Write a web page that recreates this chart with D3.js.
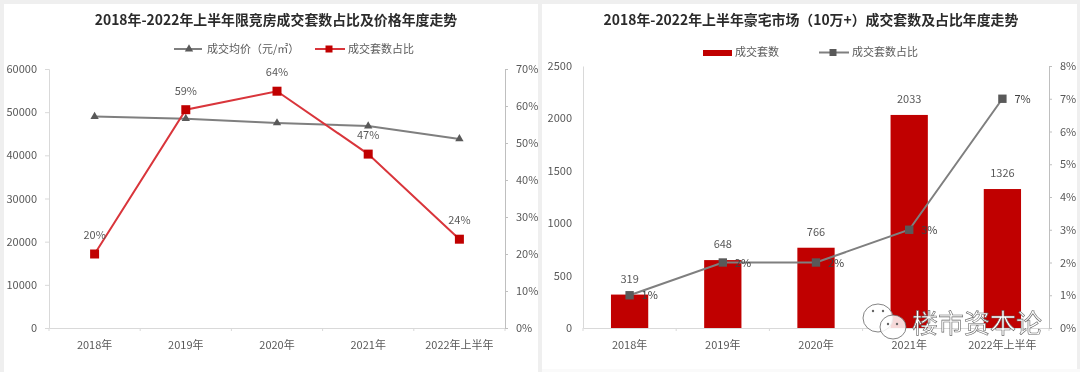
<!DOCTYPE html>
<html>
<head>
<meta charset="utf-8">
<script src="https://cdn.jsdelivr.net/npm/d3@7"></script>
<style>
html, body { margin: 0; padding: 0; background: #fff; }
svg { display: block; }
text { font-family: "Noto Sans CJK SC", "Noto Sans", sans-serif; }
.tick text, .lbl, .legend { fill: #595959; font-size: 11px; }
.title { fill: #2b2b2b; font-size: 13.9px; font-weight: 700; text-anchor: middle; }
.blur { filter: blur(0.6px); }
</style>
</head>
<body>
<svg width="1080" height="372"></svg>
<script>
const categories = ['2018年', '2019年', '2020年', '2021年', '2022年上半年']
const avgPrice = [49000, 48500, 47500, 46800, 43800]
const limitShare = [20, 59, 64, 47, 24]
const luxuryCount = [319, 648, 766, 2033, 1326]
const luxuryShare = [1, 2, 2, 3, 7]
const leftTicks = [0, 10000, 20000, 30000, 40000, 50000, 60000]
const leftPctTicks = [0, 10, 20, 30, 40, 50, 60, 70]
const rightTicks = [0, 500, 1000, 1500, 2000, 2500]
const rightPctTicks = [0, 1, 2, 3, 4, 5, 6, 7, 8]

const red = '#c00000'
const lineRed = '#d9353b'
const grey = '#7f7f7f'
const darkGrey = '#595959'
const axisGrey = '#d9d9d9'
const axisDark = '#bfbfbf'

const svg = d3.select('svg')

svg.append('rect').attr('width', 1080).attr('height', 372).attr('fill', '#efefef')
svg.append('rect').attr('x', 4).attr('y', 4).attr('width', 534).attr('height', 368).attr('fill', '#fff')
svg.append('rect').attr('x', 542).attr('y', 4).attr('width', 535).attr('height', 365).attr('fill', '#fff')
svg.append('rect').attr('x', 542).attr('y', 369).attr('width', 538).attr('height', 3).attr('fill', '#fafafa')

const root = svg.append('g').attr('class', 'blur')

const styleAxis = (g, color) => {
    g.selectAll('.domain').attr('stroke', color)
    g.selectAll('.tick line').attr('stroke', color)
}

const triangle = d3.symbol().type(d3.symbolTriangle).size(30)
const square = size => d3.symbol().type(d3.symbolSquare).size(size)

const bandTicks = (g, x, bottom) => {
    const left = x.range()[0]
    g.selectAll('.cat-tick').data(d3.range(categories.length + 1)).enter().append('line')
        .attr('x1', i => left + i * x.step()).attr('x2', i => left + i * x.step())
        .attr('y1', bottom).attr('y2', bottom + 3).attr('stroke', axisGrey)
}

// left chart
const drawLeft = () => {
    const m = { left: 49, right: 505, top: 69, bottom: 328 }
    const x = d3.scaleBand().domain(categories).range([m.left, m.right])
    const y = d3.scaleLinear().domain([0, 60000]).range([m.bottom, m.top])
    const yPct = d3.scaleLinear().domain([0, 70]).range([m.bottom, m.top])
    const cx = d => x(d) + x.bandwidth() / 2
    const g = root.append('g')

    g.append('text').attr('class', 'title').attr('x', 276).attr('y', 25)
        .text('2018年-2022年上半年限竞房成交套数占比及价格年度走势')

    g.append('g').attr('transform', `translate(0,${m.bottom})`)
        .call(d3.axisBottom(x).tickSize(0).tickPadding(13))
        .call(styleAxis, axisGrey)
    bandTicks(g, x, m.bottom)

    g.append('g').attr('transform', `translate(${m.left},0)`)
        .call(d3.axisLeft(y).tickValues(leftTicks).tickFormat(d3.format('d')).tickSize(4).tickPadding(8))
        .call(styleAxis, axisGrey)
    g.append('g').attr('transform', `translate(${m.right},0)`)
        .call(d3.axisRight(yPct).tickValues(leftPctTicks).tickFormat(d => d + '%').tickSize(3).tickPadding(8))
        .call(styleAxis, axisDark)

    const priceLine = d3.line().x((d, i) => cx(categories[i])).y(d => y(d))
    const shareLine = d3.line().x((d, i) => cx(categories[i])).y(d => yPct(d))

    g.append('path').attr('d', priceLine(avgPrice)).attr('fill', 'none').attr('stroke', grey).attr('stroke-width', 2)
    g.selectAll('.tri').data(avgPrice).enter().append('path')
        .attr('d', triangle).attr('fill', darkGrey)
        .attr('transform', (d, i) => `translate(${cx(categories[i])},${y(d)})`)

    g.append('path').attr('d', shareLine(limitShare)).attr('fill', 'none').attr('stroke', lineRed).attr('stroke-width', 2)
    g.selectAll('.sq').data(limitShare).enter().append('path')
        .attr('d', square(81)).attr('fill', red)
        .attr('transform', (d, i) => `translate(${cx(categories[i])},${yPct(d)})`)

    g.selectAll('.lbl').data(limitShare).enter().append('text')
        .attr('class', 'lbl').attr('text-anchor', 'middle')
        .attr('x', (d, i) => cx(categories[i]))
        .attr('y', d => yPct(d) - 15)
        .text(d => d + '%')

    // legend
    const lg = g.append('g')
    lg.append('line').attr('x1', 174).attr('x2', 202).attr('y1', 49).attr('y2', 49).attr('stroke', grey).attr('stroke-width', 2)
    lg.append('path').attr('d', triangle).attr('fill', darkGrey).attr('transform', 'translate(189,49)')
    lg.append('text').attr('class', 'legend').attr('x', 207).attr('y', 53).text('成交均价（元/㎡）')
    lg.append('line').attr('x1', 315).attr('x2', 345).attr('y1', 49).attr('y2', 49).attr('stroke', lineRed).attr('stroke-width', 2)
    lg.append('path').attr('d', square(49)).attr('fill', red).attr('transform', 'translate(329,49)')
    lg.append('text').attr('class', 'legend').attr('x', 348).attr('y', 53).text('成交套数占比')
}

// right chart
const drawRight = () => {
    const m = { left: 583, right: 1049, top: 66, bottom: 328 }
    const x = d3.scaleBand().domain(categories).range([m.left, m.right]).paddingInner(0.6).paddingOuter(0.3)
    const y = d3.scaleLinear().domain([0, 2500]).range([m.bottom, m.top])
    const yPct = d3.scaleLinear().domain([0, 8]).range([m.bottom, m.top])
    const cx = d => x(d) + x.bandwidth() / 2
    const g = root.append('g')

    g.append('text').attr('class', 'title').attr('x', 811).attr('y', 25)
        .text('2018年-2022年上半年豪宅市场（10万+）成交套数及占比年度走势')

    g.selectAll('.bar').data(luxuryCount).enter().append('rect')
        .attr('x', (d, i) => x(categories[i])).attr('width', x.bandwidth())
        .attr('y', d => y(d)).attr('height', d => m.bottom - y(d))
        .attr('fill', red)

    g.append('g').attr('transform', `translate(0,${m.bottom})`)
        .call(d3.axisBottom(x).tickSize(0).tickPadding(13))
        .call(styleAxis, axisGrey)
    bandTicks(g, x, m.bottom)

    g.append('g').attr('transform', `translate(${m.left},0)`)
        .call(d3.axisLeft(y).tickValues(rightTicks).tickFormat(d3.format('d')).tickSize(0).tickPadding(11))
        .call(styleAxis, axisGrey)
    g.append('g').attr('transform', `translate(${m.right},0)`)
        .call(d3.axisRight(yPct).tickValues(rightPctTicks).tickFormat(d => d + '%').tickSize(3).tickPadding(8))
        .call(styleAxis, axisDark)

    const shareLine = d3.line().x((d, i) => cx(categories[i])).y(d => yPct(d))
    g.append('path').attr('d', shareLine(luxuryShare)).attr('fill', 'none').attr('stroke', grey).attr('stroke-width', 2)
    g.selectAll('.sq').data(luxuryShare).enter().append('path')
        .attr('d', square(70)).attr('fill', darkGrey)
        .attr('transform', (d, i) => `translate(${cx(categories[i])},${yPct(d)})`)

    g.selectAll('.lbl').data(luxuryCount).enter().append('text')
        .attr('class', 'lbl').attr('text-anchor', 'middle')
        .attr('x', (d, i) => cx(categories[i]))
        .attr('y', d => y(d) - 12)
        .text(d => d)
    g.selectAll('.lbl2').data(luxuryShare).enter().append('text')
        .attr('class', 'lbl').attr('x', (d, i) => cx(categories[i]) + 12)
        .attr('y', d => yPct(d) + 4)
        .style('fill', '#404040')
        .text(d => d + '%')

    // legend
    g.append('rect').attr('x', 703).attr('y', 50).attr('width', 29).attr('height', 6).attr('fill', red)
    g.append('text').attr('class', 'legend').attr('x', 735).attr('y', 56).text('成交套数')
    g.append('line').attr('x1', 819).attr('x2', 849).attr('y1', 52.5).attr('y2', 52.5).attr('stroke', grey).attr('stroke-width', 2)
    g.append('path').attr('d', square(49)).attr('fill', darkGrey).attr('transform', 'translate(833,52.5)')
    g.append('text').attr('class', 'legend').attr('x', 852).attr('y', 56).text('成交套数占比')
}

drawLeft()
drawRight()

// watermark
const wm = svg.append('g')
const bubble = (cx, cy, rx, ry) => {
    wm.append('ellipse').attr('cx', cx).attr('cy', cy).attr('rx', rx).attr('ry', ry)
        .attr('fill', 'rgba(255,255,255,0.85)').attr('stroke', '#666').attr('stroke-width', 0.8)
}
bubble(878, 318, 15, 14)
bubble(893, 327, 13, 12)
wm.selectAll('.eye').data([[873, 311], [883, 311], [888, 324], [897, 324]]).enter().append('circle')
    .attr('cx', d => d[0]).attr('cy', d => d[1]).attr('r', 1.2).attr('fill', '#666')
wm.append('text').attr('x', 912).attr('y', 333)
    .style('font-size', '26px')
    .attr('fill', '#fff').attr('stroke', '#666').attr('stroke-width', 0.6)
    .text('楼市资本论')
</script>
</body>
</html>
